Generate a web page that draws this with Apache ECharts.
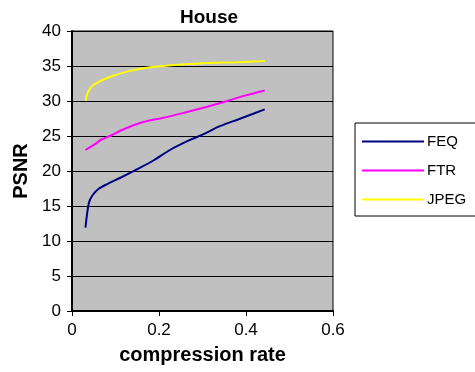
<!DOCTYPE html>
<html>
<head>
<meta charset="utf-8">
<script src="https://cdn.jsdelivr.net/npm/echarts@6/dist/echarts.min.js"></script>
<style>
  html, body { margin: 0; padding: 0; background: #fff; }
  #chart { width: 475px; height: 372px; }
</style>
</head>
<body>
<div id="chart"></div>
<script>
// PSNR versus compression rate for the "House" image, three coders
const seriesNames = ['FEQ', 'FTR', 'JPEG'];
const seriesColors = ['#000080', '#FF00FF', '#FFFF00'];

// [compression rate, PSNR]
const feq = [
  [0.031, 11.9], [0.039, 15.5], [0.048, 16.6], [0.06, 17.4], [0.08, 18.1],
  [0.11, 19.0], [0.148, 20.2], [0.187, 21.5], [0.225, 23.0], [0.27, 24.4],
  [0.30, 25.2], [0.34, 26.4], [0.383, 27.4], [0.443, 28.8]
];
const ftr = [
  [0.031, 23.0], [0.052, 23.8], [0.068, 24.5], [0.087, 25.0], [0.12, 26.0],
  [0.164, 27.0], [0.21, 27.6], [0.25, 28.2], [0.30, 29.0], [0.356, 30.0],
  [0.40, 30.8], [0.443, 31.5]
];
const jpeg = [
  [0.031, 30.0], [0.037, 31.3], [0.048, 32.2], [0.07, 33.0], [0.095, 33.6],
  [0.133, 34.3], [0.171, 34.75], [0.21, 35.0], [0.25, 35.2], [0.30, 35.4],
  [0.38, 35.55], [0.443, 35.7]
];

const xTicks = [0, 0.2, 0.4, 0.6];
const yTicks = [0, 5, 10, 15, 20, 25, 30, 35, 40];

const FONT = 'Arial, "Liberation Sans", sans-serif';
const seriesData = [feq, ftr, jpeg];

const chart = echarts.init(document.getElementById('chart'), null, { renderer: 'canvas' });

chart.setOption({
  animation: false,
  backgroundColor: '#ffffff',
  title: {
    text: 'House',
    left: 204,
    textAlign: 'center',
    top: 3,
    textStyle: { fontFamily: FONT, fontSize: 19, fontWeight: 'bold', color: '#000' }
  },
  legend: {
    orient: 'vertical',
    left: 355,
    top: 123,
    padding: [11, 13, 9, 7],
    itemGap: 14,
    itemWidth: 62,
    itemHeight: 2,
    icon: 'rect',
    backgroundColor: '#ffffff',
    borderColor: '#000',
    borderWidth: 1,
    borderRadius: 0,
    textStyle: { fontFamily: FONT, fontSize: 15, color: '#000', padding: [0, 0, 0, -2] },
    data: seriesNames
  },
  grid: {
    left: 72,
    right: 142,
    top: 31,
    bottom: 61,
    show: true,
    backgroundColor: '#C0C0C0',
    borderColor: '#000',
    borderWidth: 1
  },
  xAxis: {
    type: 'value',
    min: xTicks[0],
    max: xTicks[xTicks.length - 1],
    interval: 0.2,
    name: 'compression rate',
    nameLocation: 'middle',
    nameGap: 34,
    nameTextStyle: { fontFamily: FONT, fontSize: 20, fontWeight: 'bold', color: '#000' },
    axisLine: { show: true, lineStyle: { color: '#000', width: 2 } },
    axisTick: { show: true, length: 5, lineStyle: { color: '#000' } },
    axisLabel: {
      fontFamily: FONT, fontSize: 17, color: '#000', margin: 11,
      formatter: v => String(Number(v.toFixed(1)))
    },
    splitLine: { show: false }
  },
  yAxis: {
    type: 'value',
    min: yTicks[0],
    max: yTicks[yTicks.length - 1],
    interval: 5,
    name: 'PSNR',
    nameLocation: 'middle',
    nameGap: 35,
    nameTextStyle: { fontFamily: FONT, fontSize: 20, fontWeight: 'bold', color: '#000' },
    axisLine: { show: true, lineStyle: { color: '#000', width: 2 } },
    axisTick: { show: true, length: 5, lineStyle: { color: '#000' } },
    axisLabel: { fontFamily: FONT, fontSize: 17, color: '#000', margin: 11 },
    splitLine: { show: true, lineStyle: { color: '#000', width: 1 } }
  },
  series: seriesNames.map((name, i) => ({
    name,
    type: 'line',
    data: seriesData[i],
    smooth: 0.3,
    showSymbol: false,
    symbol: 'none',
    color: seriesColors[i],
    lineStyle: { color: seriesColors[i], width: 2 }
  }))
});
</script>
</body>
</html>
